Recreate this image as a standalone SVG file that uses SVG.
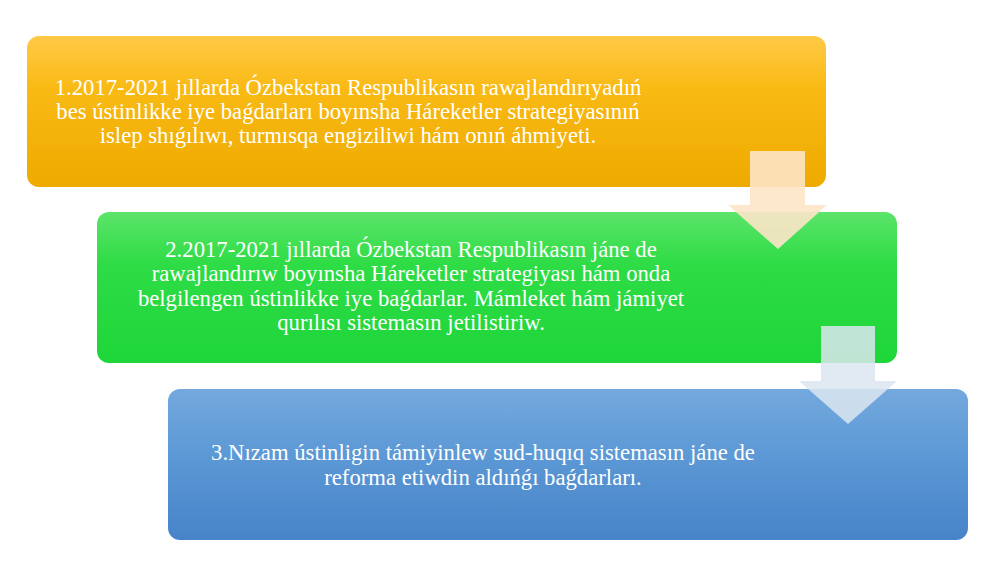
<svg xmlns="http://www.w3.org/2000/svg" width="1000" height="562" viewBox="0 0 1000 562">
<style>
.t{font-family:"Liberation Serif","Times New Roman",serif;font-size:22.7px;fill:#ffffff;text-anchor:middle}
</style>
<defs>
<linearGradient id="gO" x1="0" y1="0" x2="0" y2="1">
<stop offset="0" stop-color="#FFC947"/><stop offset="0.35" stop-color="#F9BA14"/><stop offset="1" stop-color="#EEAA00"/>
</linearGradient>
<linearGradient id="gG" x1="0" y1="0" x2="0" y2="1">
<stop offset="0" stop-color="#5CE46A"/><stop offset="0.35" stop-color="#2EDC45"/><stop offset="1" stop-color="#1ED63A"/>
</linearGradient>
<linearGradient id="gB" x1="0" y1="0" x2="0" y2="1">
<stop offset="0" stop-color="#74A9DE"/><stop offset="0.4" stop-color="#5E9AD6"/><stop offset="1" stop-color="#4683C8"/>
</linearGradient>
</defs>
<rect width="1000" height="562" fill="#ffffff"/>
<g id="node1">
<rect x="27" y="36" width="799" height="151" rx="12" fill="url(#gO)"/>
<text class="t"><tspan x="348" y="95">1.2017-2021 jıllarda Ózbekstan Respublikasın rawajlandırıyadıń</tspan><tspan x="348" y="119">bes ústinlikke iye baǵdarları boyınsha Háreketler strategiyasınıń</tspan><tspan x="348" y="143">islep shıǵılıwı, turmısqa engiziliwi hám onıń áhmiyeti.</tspan></text>
</g>
<g id="node2">
<rect x="97" y="212" width="800" height="151" rx="12" fill="url(#gG)"/>
<text class="t"><tspan x="411" y="257">2.2017-2021 jıllarda Ózbekstan Respublikasın jáne de</tspan><tspan x="411" y="281">rawajlandırıw boyınsha Háreketler strategiyası hám onda</tspan><tspan x="411" y="306">belgilengen ústinlikke iye baǵdarlar. Mámleket hám jámiyet</tspan><tspan x="411" y="330">qurılısı sistemasın jetilistiriw.</tspan></text>
</g>
<g id="node3">
<rect x="168" y="389" width="800" height="151" rx="12" fill="url(#gB)"/>
<text class="t"><tspan x="483" y="460">3.Nızam ústinligin támiyinlew sud-huqıq sistemasın jáne de</tspan><tspan x="483" y="485">reforma etiwdin aldıńǵı baǵdarları.</tspan></text>
</g>
<g id="connectors">
<polygon points="750,151 805,151 805,205 827,205 778,249 728,205 750,205" fill="#FDE5C8" fill-opacity="0.9"/>
<polygon points="821,326 875,326 875,381 897,381 848,424 799,381 821,381" fill="#DCE6F0" fill-opacity="0.85"/>
</g>
</svg>
